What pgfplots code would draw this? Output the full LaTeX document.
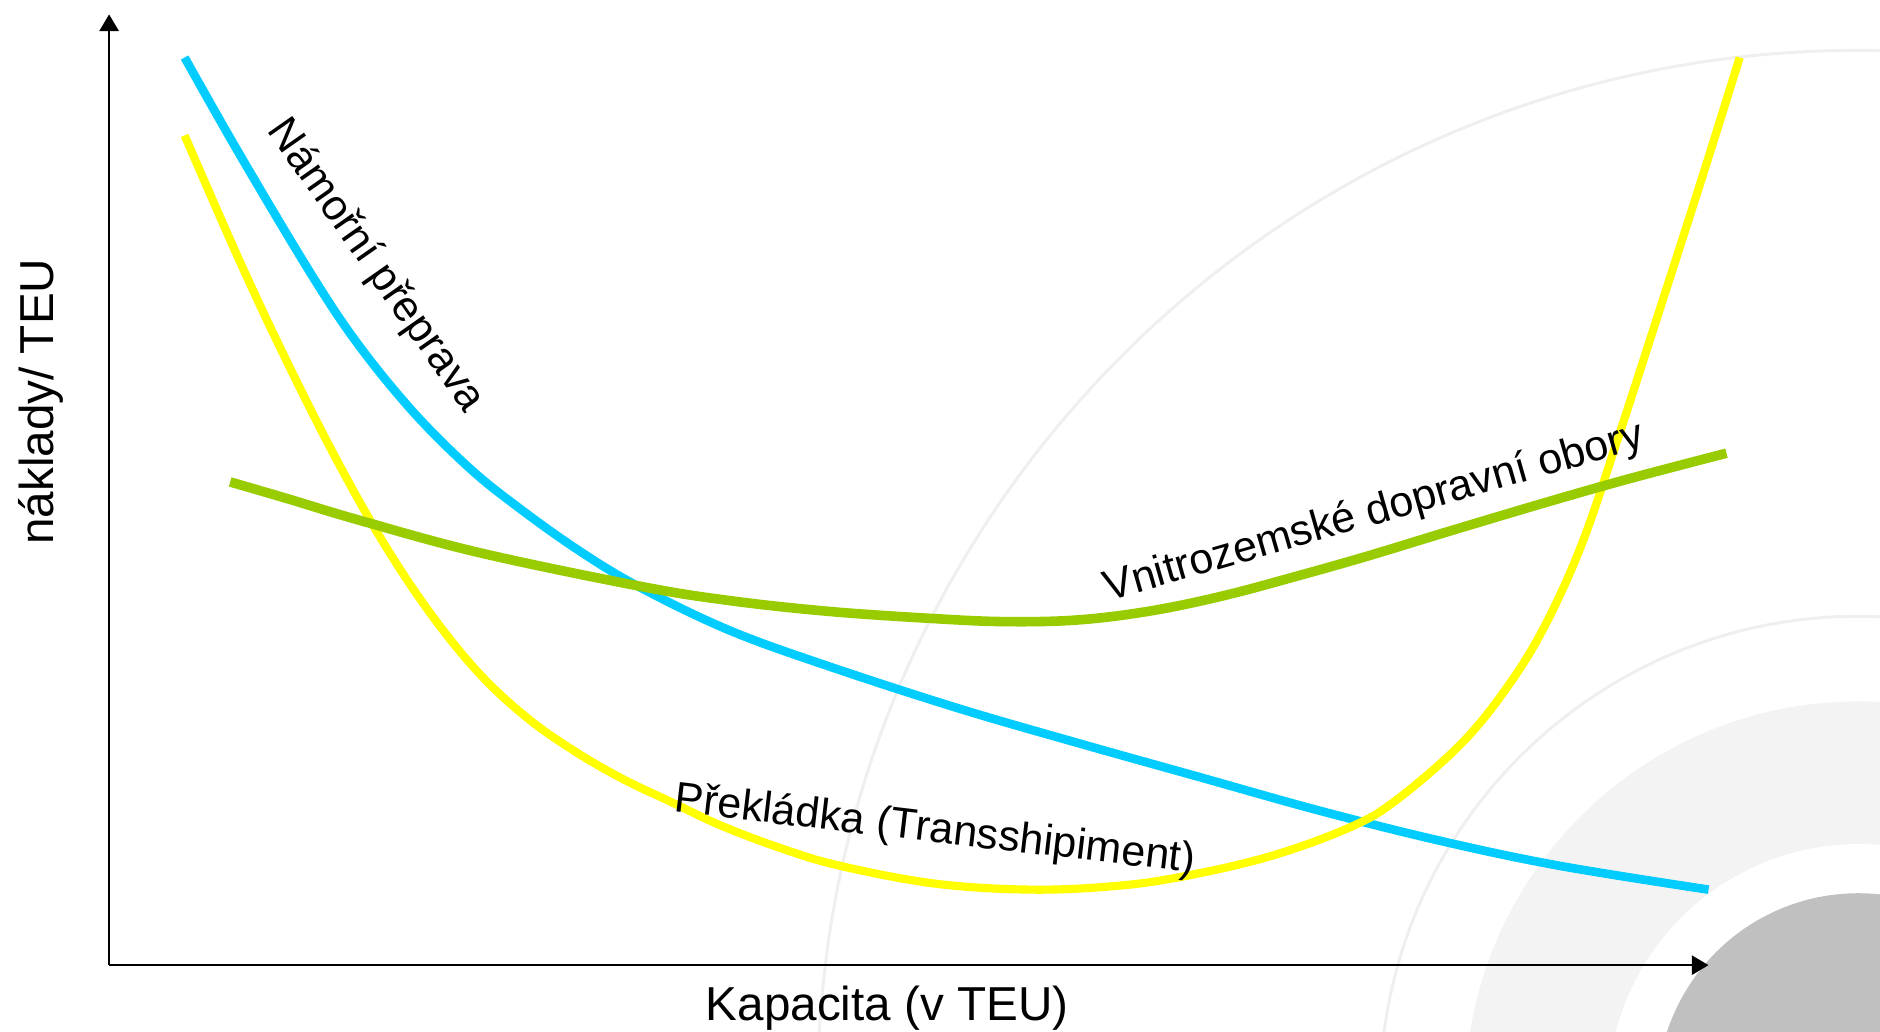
\documentclass[border=0pt]{standalone}
\usepackage{pgfplots}
\pgfplotsset{compat=1.18}
\usepackage{fontspec}
\setmainfont{Liberation Sans}
\usetikzlibrary{arrows.meta}
\definecolor{cblue}{HTML}{00CCFF}
\definecolor{cyellow}{HTML}{FFFF00}
\definecolor{cgreen}{HTML}{99CC00}
\definecolor{arcgray}{HTML}{EFEFEF}
\definecolor{bandgray}{HTML}{F3F3F3}
\definecolor{diskgray}{HTML}{C0C0C0}
\newcommand\axfont{\fontsize{11.3pt}{13pt}\selectfont}
\newcommand\cvfont{\fontsize{10.2pt}{12pt}\selectfont}
\begin{document}
\begin{tikzpicture}
\begin{scope}[x=0.1mm,y=-0.1mm,shift={(-91,-805)}]
\clip (0,0) rectangle (1568,860);
\draw[line width=0.25mm, arcgray] (1550,910) circle[radius=86.8mm];
\draw[line width=0.25mm, arcgray] (1550,913) circle[radius=39.9mm];
\fill[bandgray, even odd rule] (1550,913) circle[radius=32.8mm] (1550,913) circle[radius=20.9mm];
\fill[diskgray] (1550,913) circle[radius=16.8mm];
\end{scope}
\begin{axis}[at={(0,0)}, anchor=south west, scale only axis,
  width=133.4mm, height=79.3mm,
  xmin=91, xmax=1425, ymin=55, ymax=848,
  axis lines=left,
  axis line style={line width=0.6pt, -{Triangle[length=1.4mm,width=1.6mm]}},
  xtick=\empty, ytick=\empty, clip=false, axis on top]
% y values = 860 - pixel row of the reference
\addplot[cblue, line width=0.72mm, smooth, tension=0.6] coordinates {
(154,812) (200,731) (261,629) (300,571) (345,516) (390,471) (428,440) (481,402)
(534,370) (609,334) (692,304) (800,269) (900,240) (1000,212) (1100,184)
(1200,159) (1300,138) (1425,118)};
\addplot[cyellow, line width=0.68mm, smooth, tension=0.6] coordinates {
(154,747) (200,642) (240,557) (280,478) (320,407) (360,347) (400,298) (440,261)
(480,233) (520,210) (560,191) (600,172) (650,153) (700,138) (780,123) (860,118)
(930,121) (987,129) (1060,146) (1126,170) (1165,193) (1220,241) (1260,291)
(1290,341) (1320,408) (1350,496) (1385,604) (1420,713) (1451,812)};
\addplot[cgreen, line width=0.8mm, smooth, tension=0.6] coordinates {
(192,458) (240,444) (300,426) (400,399) (534,371) (609,359) (692,350) (780,344)
(840,341.5) (900,343) (960,350.5) (1020,363) (1080,379) (1140,396) (1209,417)
(1293,442) (1360,461) (1440,482)};
\node[rotate=-55, font=\cvfont] at (axis cs:313,638) {Námořní přeprava};
\node[rotate=16, font=\cvfont] at (axis cs:1146,432) {Vnitrozemské dopravní obory};
\node[rotate=-6.7, font=\cvfont] at (axis cs:780,167) {Překládka (Transshipiment)};
\node[rotate=90, anchor=base, font=\axfont] at (axis cs:45,525) {náklady/ TEU};
\node[anchor=base, font=\axfont] at (axis cs:740,9) {Kapacita (v TEU)};
\end{axis}
\pgfresetboundingbox
\begin{scope}[x=0.1mm,y=-0.1mm,shift={(-91,-805)}]
\path[use as bounding box] (0,0) rectangle (1568,860);
\end{scope}
\end{tikzpicture}
\end{document}
